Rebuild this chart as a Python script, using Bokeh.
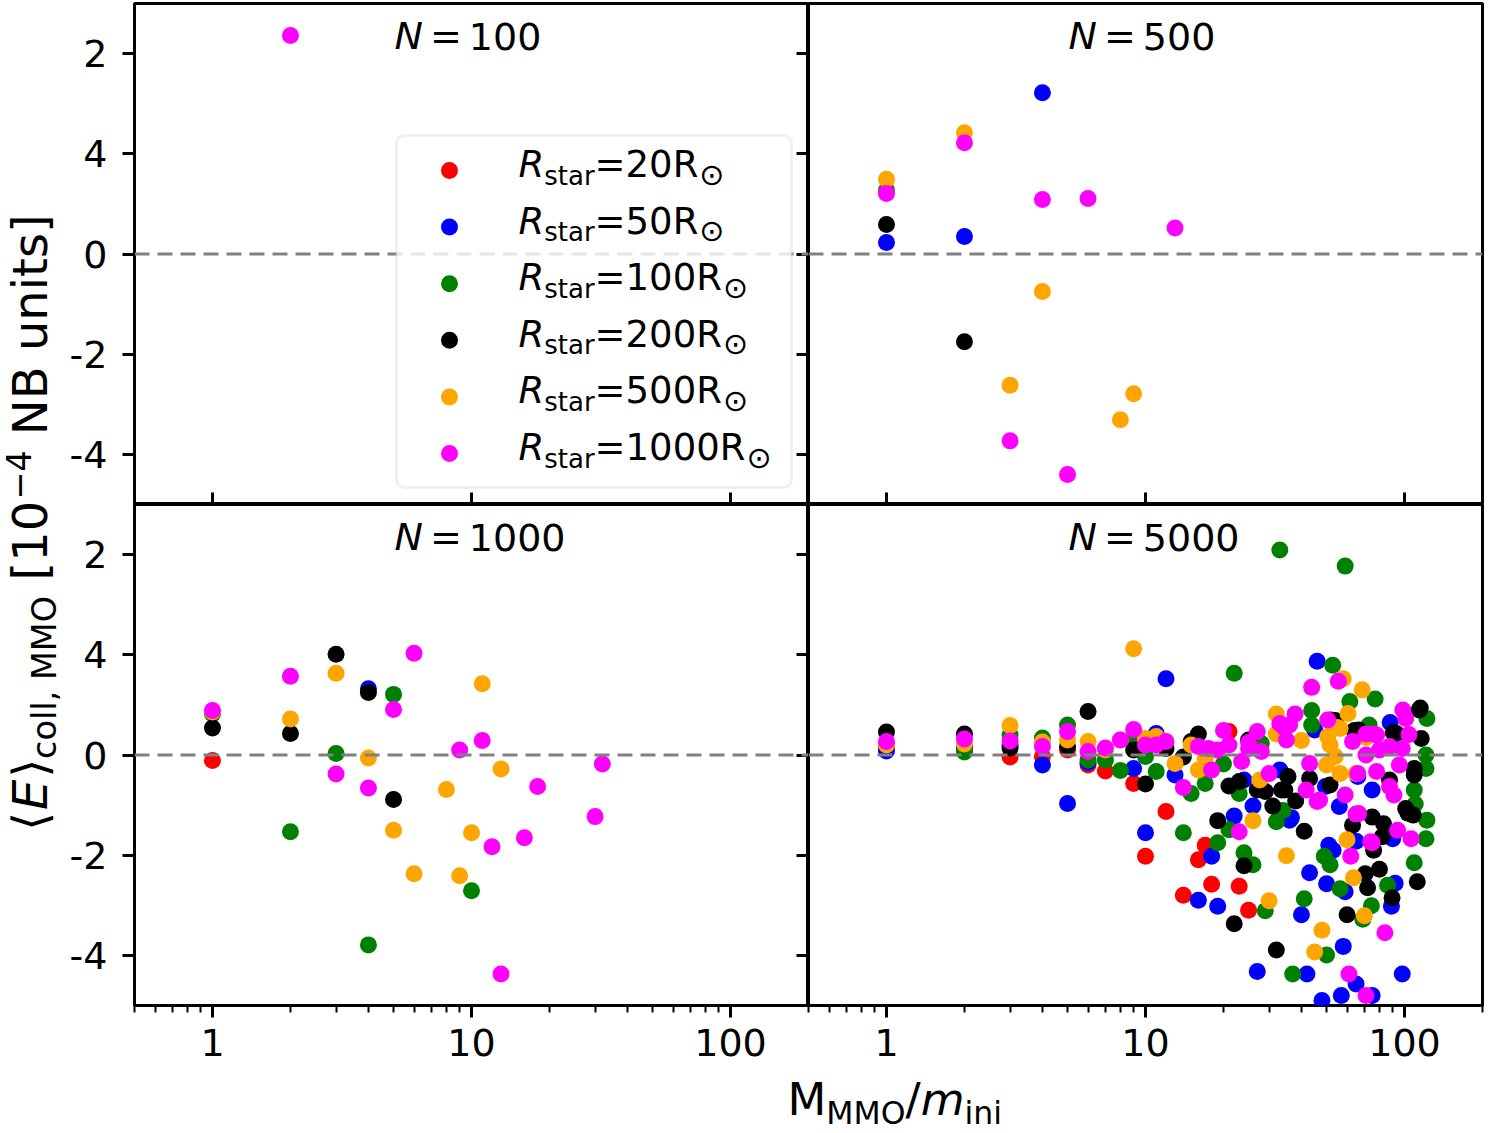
import numpy as np
from bokeh.plotting import figure
from bokeh.layouts import row, column
from bokeh.models import (Range1d, FixedTicker, LogAxis, LinearAxis, Span,
                          BoxAnnotation, BasicTickFormatter)
from bokeh.core.properties import value
from bokeh.embed import file_html
from bokeh.resources import INLINE

# ---------------- data ----------------
SERIES_LABELS = ["20", "50", "100", "200", "500", "1000"]
SERIES_COLORS = ["#ff0000", "#0000ff", "#008000", "#000000", "#ffa500", "#ff00ff"]
PANEL_N = ["100", "500", "1000", "5000"]

# N = 100
N100_X_R20, N100_Y_R20 = [], []
N100_X_R50, N100_Y_R50 = [], []
N100_X_R100, N100_Y_R100 = [], []
N100_X_R200, N100_Y_R200 = [], []
N100_X_R500, N100_Y_R500 = [], []
N100_X_R1000 = [2]
N100_Y_R1000 = [4.36]

# N = 500
N500_X_R20, N500_Y_R20 = [], []
N500_X_R50 = [1, 2, 4]
N500_Y_R50 = [0.23, 0.35, 3.22]
N500_X_R100 = [1]
N500_Y_R100 = [1.27]
N500_X_R200 = [1, 2]
N500_Y_R200 = [0.59, -1.75]
N500_X_R500 = [1, 2, 3, 4, 8, 9]
N500_Y_R500 = [1.49, 2.42, -2.62, -0.75, -3.31, -2.79]
N500_X_R1000 = [1, 2, 3, 4, 5, 6, 13]
N500_Y_R1000 = [1.21, 2.22, -3.73, 1.09, -4.40, 1.11, 0.52]

# N = 1000
N1000_X_R20 = [1]
N1000_Y_R20 = [-0.11]
N1000_X_R50 = [4]
N1000_Y_R50 = [1.32]
N1000_X_R100 = [1, 2, 3, 5, 10, 4]
N1000_Y_R100 = [0.82, -1.53, 0.03, 1.21, -2.71, -3.79]
N1000_X_R200 = [1, 2, 3, 4, 5]
N1000_Y_R200 = [0.54, 0.43, 2.01, 1.25, -0.89]
N1000_X_R500 = [1, 2, 3, 4, 5, 6, 8, 9, 10, 11, 13]
N1000_Y_R500 = [0.86, 0.72, 1.63, -0.06, -1.50, -2.37, -0.69, -2.41, -1.55, 1.42, -0.28]
N1000_X_R1000 = [1, 2, 3, 4, 5, 6, 9, 11, 12, 13, 16, 18, 30, 32]
N1000_Y_R1000 = [0.89, 1.57, -0.38, -0.66, 0.91, 2.03, 0.10, 0.29, -1.83, -4.37,
                 -1.65, -0.63, -1.23, -0.18]

# N = 5000
N5000_X_R20 = [1, 2, 3, 4, 5, 6, 7, 9, 12, 10, 17, 16, 18, 23, 14, 25, 21]
N5000_Y_R20 = [0.15, 0.12, -0.04, -0.03, 0.10, -0.20, -0.32, -0.57, -1.13, -2.02,
               -1.80, -2.09, -2.58, -2.62, -2.80, -3.10, 0.47]
N5000_X_R50 = [1, 2, 3, 4, 5, 6, 9, 11, 12, 13, 10, 18, 16, 19, 22, 24, 26, 43, 40, 58,
               27, 42, 65, 57, 48, 75, 98, 89, 59, 92, 50, 53, 51, 65, 90, 36.6, 56, 46, 88, 45,
               49.5, 75, 66, 89, 36, 33]
N5000_Y_R50 = [0.08, 0.17, 0.20, -0.20, -0.97, -0.15, -0.27, 0.43, 1.52, -0.40,
               -1.55, -2.02, -2.90, -3.02, -1.22, -0.50, -1.02, -2.35, -3.19, -3.82,
               -4.32, -4.37, -4.57, -4.80, -4.90, -4.80, -4.37, -3.02, -2.73, -2.56,
               -2.57, -1.90, -1.80, -1.72, -1.67, -1.25, -1.03, 1.87, 0.65, 0.50,
               -0.63, -0.70, -0.43, -1.63, -1.30, -0.30]
N5000_X_R100 = [1, 2, 3, 4, 5, 6, 7, 8, 9, 10, 11, 14, 15, 17, 19, 20, 21, 22, 23, 24,
                26, 28, 29, 32, 34, 33, 37, 41, 43.8, 43.8, 49, 50, 51.6, 52.8, 56.4, 59, 61.5,
                69, 73, 74.5, 77, 86, 109, 110, 109, 121, 122, 121, 121, 122]
N5000_Y_R100 = [0.22, 0.06, 0.40, 0.34, 0.60, -0.10, -0.10, -0.31, 0.30, -0.03, -0.33,
                -1.55, -0.77, -0.57, -1.75, -0.18, -1.49, 1.63, -0.77, -1.95,
                -2.19, 0.23, -3.11, -1.33, -1.11, 4.09, -4.37, -2.87, 0.89, 0.60,
                -2.02, -3.99, -2.19, 1.79, -2.67, 3.77, 1.07, -3.28, 0.60, -3.01,
                1.12, -2.60, -2.15, -0.98, -0.70, -1.67, 0.73, 0.00, -0.27, -1.30]
N5000_X_R200 = [1, 2, 3, 5, 6, 9, 10, 12, 14, 15, 16, 19, 21, 23, 24, 22, 25, 27, 29, 31,
                32, 33.5, 35.5, 38, 41, 43, 51.6, 52, 54, 60, 63, 64, 66.5, 70.5, 72, 75, 76,
                80, 82, 83, 87.5, 89.5, 90.5, 93, 101, 103, 108, 109, 109, 112, 114, 115,
                116, 34.5]
N5000_Y_R200 = [0.46, 0.42, 0.14, 0.17, 0.87, 0.10, -0.58, 0.13, -0.04, 0.27,
                0.42, -1.31, -0.62, -0.53, -2.21, -3.37, 0.30, -0.70, -0.73, -1.02,
                -3.89, -0.70, -0.43, -0.92, -1.52, -0.47, -0.60, 0.70, 0.69, -3.19,
                -1.40, 0.49, 0.50, -2.37, -2.65, -1.24, -1.90, -2.28, -1.63, -1.37,
                -0.50, -2.85, 0.45, 0.43, -1.07, -1.16, -1.20, -0.27, -0.40, -2.53,
                0.90, 0.94, 0.33, -0.70]
N5000_X_R500 = [1, 2, 3, 4, 5, 6, 7, 8, 9, 10, 11, 13, 15, 16, 17, 26, 27.6, 30, 32, 32,
                35, 40, 45, 48, 50, 50.5, 51.6, 54, 55, 56.4, 56.4, 58, 60, 60.5, 63.5, 65,
                68.6, 70, 71]
N5000_Y_R500 = [0.20, 0.22, 0.59, 0.26, 0.30, 0.27, 0.10, 0.30, 2.12, 0.33, 0.37,
                -0.17, 0.20, -0.30, -0.07, -1.31, -0.50, -2.91, 0.82, 0.42,
                -2.01, 0.29, -3.93, -3.50, -0.20, 0.37, 0.20, -0.03, 0.55, 0.53,
                -0.37, 1.52, -1.69, 0.83, -2.45, -0.37, 1.30, -3.21, 0.35]
N5000_X_R1000 = [1, 2, 3, 4, 5, 6, 7, 8, 9, 10, 11, 12, 14, 16, 17.5, 18, 19, 20, 21, 23,
                 23.5, 25, 25, 27, 28, 30, 33, 34.3, 35, 36, 37.8, 41.7, 43, 43.8, 46, 47,
                 50.5, 55.5, 59, 61, 62, 63, 65, 66.5, 66, 71, 71, 71, 74, 75, 76, 78, 78, 80,
                 84, 87.5, 87.5, 91, 94, 95.5, 98, 98.5, 101, 104, 106]
N5000_Y_R1000 = [0.27, 0.32, 0.28, 0.17, 0.47, 0.07, 0.14, 0.30, 0.51, 0.20, 0.20, 0.27,
                 -0.65, 0.17, 0.13, -0.30, 0.10, 0.49, 0.20, -1.53,
                 -0.13, 0.13, 0.25, 0.47, 0.07, -0.37, 0.63, 0.55, 0.30, 0.60,
                 0.82, -0.70, -0.17, 1.35, -0.93, -0.90, 0.70, 1.47, -0.80, -4.37,
                 -2.02, 0.27, -1.18, -1.17, -0.37, 0.00, 0.42, -4.80, -1.73, -1.75,
                 0.42, 0.40, -0.33, 0.10, -3.55, 0.17, -0.63, -0.80, -1.50, -0.20,
                 0.13, 0.90, 0.73, 0.41, -1.67]

X_TICKS = [1, 10, 100]
X_TICK_LABELS = ["1", "10", "100"]
X_MINOR_TICKS = [0.5, 0.6, 0.7, 0.8, 0.9, 2, 3, 4, 5, 6, 7, 8, 9,
                 20, 30, 40, 50, 60, 70, 80, 90, 200]
Y_TICKS = [-4, -2, 0, 2, 4]
Y_TICK_LABELS = ["-4", "-2", "0", "4", "2"]

PANEL_DATA = {
    "100": [(N100_X_R20, N100_Y_R20), (N100_X_R50, N100_Y_R50), (N100_X_R100, N100_Y_R100),
            (N100_X_R200, N100_Y_R200), (N100_X_R500, N100_Y_R500), (N100_X_R1000, N100_Y_R1000)],
    "500": [(N500_X_R20, N500_Y_R20), (N500_X_R50, N500_Y_R50), (N500_X_R100, N500_Y_R100),
            (N500_X_R200, N500_Y_R200), (N500_X_R500, N500_Y_R500), (N500_X_R1000, N500_Y_R1000)],
    "1000": [(N1000_X_R20, N1000_Y_R20), (N1000_X_R50, N1000_Y_R50), (N1000_X_R100, N1000_Y_R100),
             (N1000_X_R200, N1000_Y_R200), (N1000_X_R500, N1000_Y_R500), (N1000_X_R1000, N1000_Y_R1000)],
    "5000": [(N5000_X_R20, N5000_Y_R20), (N5000_X_R50, N5000_Y_R50), (N5000_X_R100, N5000_Y_R100),
             (N5000_X_R200, N5000_Y_R200), (N5000_X_R500, N5000_Y_R500), (N5000_X_R1000, N5000_Y_R1000)],
}

# ---------------- styling / layout ----------------
FONT = "DejaVu Sans"
FW, FH = 674, 501
TOP_B, BOT_B = 3, 66
YL_W = 66
LEFT_B = 133 - YL_W
XMIN, XMAX, YMIN, YMAX = 0.5, 200.0, -5.0, 5.0
TICK_FS = "38px"
DOT = 17
BASE_K = 0.38   # empirical baseline correction (fraction of font size)

# DejaVu Sans advance widths (em)
ADV = {' ': .318, ',': .318, '[': .390, ']': .390, '=': .838, '/': .337, '−': .838,
       'B': .686, 'E': .632, 'M': .863, 'N': .748, 'O': .787, 'R': .695,
       'a': .613, 'c': .550, 'i': .278, 'l': .278, 'm': .974, 'n': .634, 'o': .612,
       'r': .411, 's': .521, 't': .392, 'u': .634, '⟨': .390, '⟩': .390, '⊙': .838}
for d in "0123456789":
    ADV[d] = .636


def tw(s, size):
    return sum(ADV.get(ch, 0.6) for ch in s) * size


def xfrac(f):
    return 10 ** (np.log10(XMIN) + f * (np.log10(XMAX) - np.log10(XMIN)))


def yfrac(f):  # fraction measured from the top
    return YMAX - f * (YMAX - YMIN)


def put_text(p, x, y, txt, size, style="normal", dx=0.0, dy=0.0, rotated=False, level="overlay"):
    k = BASE_K * size
    if rotated:
        dx -= k
    else:
        dy -= k
    p.text(x=[x], y=[y], text=[txt], x_offset=dx, y_offset=dy,
           angle=(np.pi / 2 if rotated else 0.0),
           text_font=value(FONT), text_font_size=value(f"{size:.1f}px"),
           text_font_style=style, text_color="black", text_align="left",
           text_baseline="alphabetic", level=level)


def quiet_axis(ax, ticks):
    ax.major_label_overrides = {t: "" for t in ticks}
    ax.major_label_text_font_size = "1px"
    ax.major_label_text_color = None
    ax.major_label_standoff = 0
    ax.major_tick_in, ax.major_tick_out = 12, 0
    ax.major_tick_line_width = 3
    ax.minor_tick_line_color = None
    ax.axis_line_color = None


def make_panel(r, c):
    top, left = (r == 0), (c == 0)
    p = figure(x_axis_type="log", x_range=Range1d(XMIN, XMAX), y_range=Range1d(YMIN, YMAX),
               frame_width=FW, frame_height=FH, output_backend="svg", toolbar_location=None,
               x_axis_location=None if top else "below",
               y_axis_location="left" if left else None,
               min_border_left=LEFT_B if left else 0, min_border_right=0 if left else 3,
               min_border_top=TOP_B if top else 0, min_border_bottom=0 if top else BOT_B)
    p.grid.visible = False
    p.outline_line_color = "black"
    p.outline_line_width = 3
    p.background_fill_color = "white"
    p.border_fill_color = "white"

    if not top:
        ax = p.xaxis[0]
        ax.ticker = FixedTicker(ticks=X_TICKS, minor_ticks=X_MINOR_TICKS)
        ax.formatter = BasicTickFormatter()
        ax.major_label_overrides = dict(zip(X_TICKS, X_TICK_LABELS))
        ax.major_label_text_font = FONT
        ax.major_label_text_font_size = TICK_FS
        ax.major_label_text_color = "black"
        ax.major_tick_out, ax.major_tick_in = 12, 0
        ax.minor_tick_out, ax.minor_tick_in = 7, 0
        ax.major_tick_line_width = 3
        ax.minor_tick_line_width = 2
        ax.axis_line_color = None
        ax.major_label_standoff = 11
    else:
        ax = LogAxis(ticker=FixedTicker(ticks=X_TICKS), formatter=BasicTickFormatter())
        quiet_axis(ax, X_TICKS)
        p.add_layout(ax, "below")

    if left:
        ay = p.yaxis[0]
        ay.ticker = FixedTicker(ticks=Y_TICKS)
        ay.major_label_overrides = dict(zip(Y_TICKS, Y_TICK_LABELS))
        ay.major_label_text_font = FONT
        ay.major_label_text_font_size = TICK_FS
        ay.major_label_text_color = "black"
        ay.major_tick_out, ay.major_tick_in = 12, 0
        ay.minor_tick_line_color = None
        ay.major_tick_line_width = 3
        ay.axis_line_color = None
        ay.major_label_standoff = 15
        ay2 = LinearAxis(ticker=FixedTicker(ticks=Y_TICKS))
        quiet_axis(ay2, Y_TICKS)
        p.add_layout(ay2, "right")

    n = PANEL_N[2 * r + c]
    for (xs, ys), col in zip(PANEL_DATA[n], SERIES_COLORS):
        if len(xs):
            p.scatter(xs, ys, size=DOT, fill_color=col, line_color=None)

    p.add_layout(Span(location=0, dimension="width", line_color="#808080",
                      line_dash="15 8", line_width=3))

    # panel title  "N = ..."
    tx, ty = xfrac(260 / FW), yfrac(47 / FH)
    d_eq = 0.75 * 38 + 7
    put_text(p, tx, ty, "N", 38, "italic")
    put_text(p, tx, ty, "=", 38, "normal", dx=d_eq)
    put_text(p, tx, ty, n, 38, "normal", dx=d_eq + tw("=", 38) + 7)
    return p


tl, tr = make_panel(0, 0), make_panel(0, 1)
bl, br = make_panel(1, 0), make_panel(1, 1)

# ---------------- legend (top-left panel) ----------------
tl.add_layout(BoxAnnotation(left=xfrac(262 / FW), right=xfrac(657 / FW),
                            top=yfrac(132 / FH), bottom=yfrac(484 / FH),
                            fill_color="white", fill_alpha=0.8, line_color="#cccccc",
                            line_width=3, border_radius=8))
LF, LS = 37, 26
mx = xfrac(315 / FW)
for i, (lab, col) in enumerate(zip(SERIES_LABELS, SERIES_COLORS)):
    yy = yfrac((167 + i * 56.6) / FH)
    tl.scatter([mx], [yy], size=DOT, fill_color=col, line_color=None, level="overlay")
    d0 = 69
    put_text(tl, mx, yy, "R", LF, "italic", dx=d0, dy=8)
    d1 = d0 + tw("R", LF)
    put_text(tl, mx, yy, "star", LS, "normal", dx=d1, dy=15)
    d2 = d1 + tw("star", LS)
    main = "=" + lab + "R"
    put_text(tl, mx, yy, main, LF, "normal", dx=d2, dy=8)
    d3 = d2 + tw(main, LF) + 1
    put_text(tl, mx, yy, "⊙", 30, "normal", dx=d3, dy=15)

# ---------------- shared axis labels ----------------
GH = TOP_B + 2 * FH + BOT_B
ylab = figure(frame_width=YL_W, frame_height=GH, x_range=Range1d(0, YL_W), y_range=Range1d(0, GH),
              min_border=0, x_axis_location=None, y_axis_location=None,
              toolbar_location=None, output_backend="svg")
ylab.grid.visible = False
ylab.outline_line_color = None
F, S = 48, 33.5
SP = tw(" ", F)
# (text, size, style, perpendicular shift, gap before)
y_pieces = [("⟨", F, "normal", 0, 0), ("E", F, "italic", 0, 2), ("⟩", F, "normal", 0, 2),
            ("coll, MMO", S, "normal", 9, 0), ("[10", F, "normal", 0, SP),
            ("−4", S, "normal", -17, 1), ("NB units]", F, "normal", 0, SP)]
total = sum(tw(t, s) + g for t, s, _, _, g in y_pieces)
cx, cy = 48, GH - 522
cum = 0.0
for t, s, st, sh, g in y_pieces:
    cum += g
    put_text(ylab, cx, cy, t, s, st, dx=sh, dy=total / 2 - cum, rotated=True)
    cum += tw(t, s)

XL_W = YL_W + LEFT_B + FW + FW + 3
XL_H = 1132 - GH
xlab = figure(frame_width=XL_W, frame_height=XL_H, x_range=Range1d(0, XL_W), y_range=Range1d(0, XL_H),
              min_border=0, x_axis_location=None, y_axis_location=None,
              toolbar_location=None, output_backend="svg")
xlab.grid.visible = False
xlab.outline_line_color = None
FX, SX = 45, 31.5
x_pieces = [("M", FX, "normal", 0), ("MMO", SX, "normal", 8), ("/", FX, "normal", 0),
            ("m", FX, "italic", 0), ("ini", SX, "normal", 8)]
bx, by = 787, XL_H - (1116 - GH)
cum = 0.0
for t, s, st, sh in x_pieces:
    put_text(xlab, bx, by, t, s, st, dx=cum, dy=sh)
    cum += tw(t, s)

layout = column(row(ylab, column(row(tl, tr), row(bl, br))), xlab)

open("out.html", "w").write(file_html(layout, INLINE))
